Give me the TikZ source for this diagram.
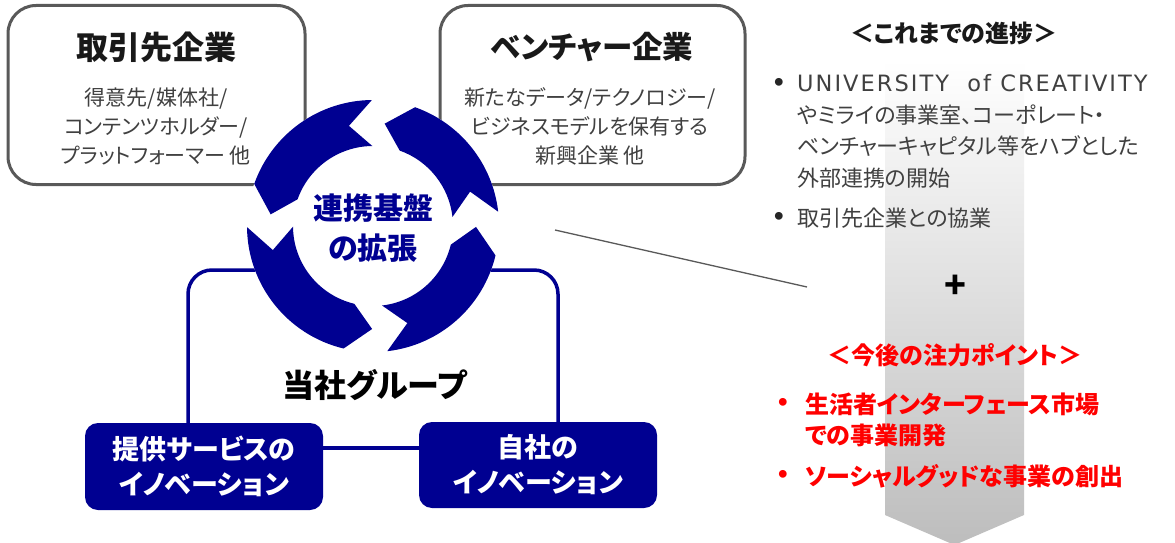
\documentclass[tikz,border=0pt]{standalone}
\usepackage{fontspec}
\setmainfont{Noto Sans CJK JP}[RawFeature={+palt}]
\newfontfamily\latinfont{DejaVu Sans}[LetterSpace=9]
\newfontfamily\bulfont{DejaVu Sans}
\definecolor{ringnavy}{RGB}{0,0,145}
\definecolor{boxgrey}{RGB}{89,89,89}
\definecolor{txtgrey}{RGB}{64,64,64}
\definecolor{bandgrey}{RGB}{189,189,189}
\definecolor{redtxt}{RGB}{255,0,0}
\begin{document}
\begin{tikzpicture}[x=1pt,y=1pt,
  gbox/.style={draw=boxgrey, line width=3pt, rounded corners=28pt, fill=white, inner sep=0pt},
  nbox/.style={fill=ringnavy, rounded corners=13pt, inner sep=0pt, text=white, align=center,
    font=\fontsize{27}{35}\selectfont\bfseries},
  ttl/.style={text=black!90, inner sep=0pt},
  bodytxt/.style={font=\fontsize{21}{29}\selectfont, text=txtgrey, align=center, inner sep=0pt},
  navyline/.style={draw=ringnavy, line width=3.5pt},
  rtxt/.style={font=\fontsize{22}{31.7}\selectfont, text=txtgrey, align=left, inner sep=0pt, anchor=west},
  rred/.style={font=\fontsize{24}{31}\selectfont\bfseries, text=redtxt, align=left, inner sep=0pt, anchor=west},
  bul/.style={inner sep=0pt, font=\bulfont\fontsize{22}{22}\selectfont\bfseries}
]
\useasboundingbox (0,0) rectangle (1175,-543);
\fill[white] (0,0) rectangle (1175,-543);

% grey band arrow
\shade[top color=white, bottom color=bandgrey]
  (885,-60) -- (1024,-60) -- (1024,-515) -- (954.5,-545) -- (885,-515) -- cycle;

% top boxes
\node[gbox, minimum width=297pt, minimum height=179pt] (boxA) at (156.5,-95) {};
\node[gbox, minimum width=305pt, minimum height=179pt] (boxB) at (592.5,-95) {};
\node[ttl, font=\fontsize{32}{36}\selectfont\bfseries] (tA) at (156,-47) {取引先企業};
\node[ttl, font=\fontsize{30.5}{36}\selectfont\bfseries] (tB) at (592,-47) {ベンチャー企業};
\node[bodytxt] (bA) at (156,-126) {得意先/媒体社/\\コンテンツホルダー/\\プラットフォーマー 他};
\node[bodytxt] (bB) at (590,-126) {新たなデータ/テクノロジー/\\ビジネスモデルを保有する\\新興企業 他};

% group frame
\draw[navyline, rounded corners=24pt] (188,-430) -- (188,-270) -- (558,-270) -- (558,-430);

% bottom boxes
\node[nbox, minimum width=238pt, minimum height=87pt] (b1) at (204,-466.5) {提供サービスの\\イノベーション};
\node[nbox, minimum width=238pt, minimum height=86pt] (b2) at (538,-465) {自社の\\イノベーション};
\draw[navyline] ([yshift=18.5pt]b1.east) -- ([yshift=18.5pt]b1.east -| b2.west);

\node[font=\fontsize{32}{36}\selectfont\bfseries, text=black, inner sep=0pt] (grp) at (375,-385) {当社グループ};

% ring
\begin{scope}[shift={(373,-226)}]
  \def\Ro{126}\def\Ri{80}\def\Rm{103}\def\hw{3.5}\def\dd{13}
  \fill[white] (0,0) circle[radius=\Ro];
  \foreach \A/\B in {3/87,87/177,177/273,273/363}{
    \fill[ringnavy] ({\A+\hw}:\Ro) arc[start angle={\A+\hw}, end angle={\B-\hw-\dd}, radius=\Ro]
      -- ({\B-\hw}:\Rm) -- ({\B-\hw-\dd}:\Ri)
      arc[start angle={\B-\hw-\dd}, end angle={\A+\hw}, radius=\Ri]
      -- ({\A+\hw+\dd}:\Rm) -- cycle;
  }
\end{scope}
\node[font=\fontsize{30}{40}\selectfont\bfseries, text=ringnavy, align=center, inner sep=0pt] (hub) at (373,-228) {連携基盤\\の拡張};

% thin grey line
\coordinate (ls) at (555,-230);
\coordinate (le) at (807,-287);
\draw[boxgrey, line width=1.3pt] (ls) -- (le);

% right texts
\node[font=\fontsize{24}{26}\selectfont\bfseries, text=black!90, inner sep=0pt] (h1) at (954,-33) {＜これまでの進捗＞};
\node[bul, text=black!85] (d1) at (779,-84) {•};
\node[rtxt] (i1) at (797,-131.5) {{\latinfont\fontsize{22.5}{31.7}\selectfont UNIVERSITY\ \ of CREATIVITY}\\やミライの事業室、コーポレート・\\ベンチャーキャピタル等をハブとした\\外部連携の開始};
\node[bul, text=black!85] (d2) at (779,-218) {•};
\node[rtxt] (i2) at (797,-218) {取引先企業との協業};
\node[font=\fontsize{36}{36}\selectfont\bfseries, inner sep=0pt] (plus) at (955,-287) {+};
\node[font=\fontsize{24}{26}\selectfont\bfseries, text=redtxt, inner sep=0pt] (h2) at (955,-355) {＜今後の注力ポイント＞};
\node[bul, text=redtxt] (d3) at (783,-404) {•};
\node[rred] (i3) at (805,-419.5) {生活者インターフェース市場\\での事業開発};
\node[bul, text=redtxt] (d4) at (783,-476) {•};
\node[rred] (i4) at (805,-476) {ソーシャルグッドな事業の創出};
\end{tikzpicture}
\end{document}
